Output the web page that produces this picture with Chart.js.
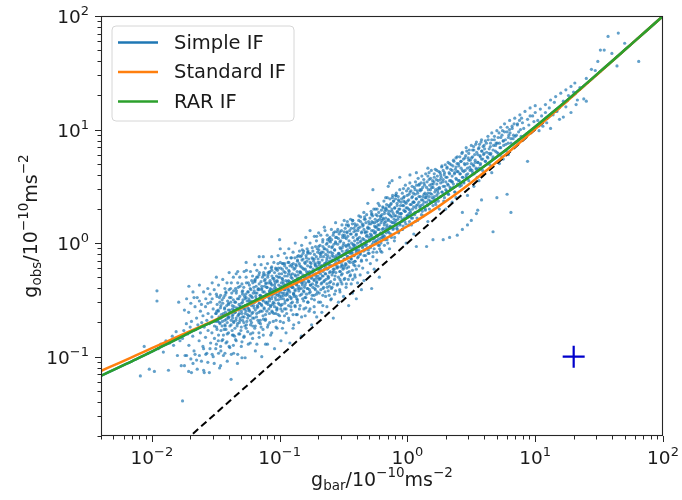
<!DOCTYPE html>
<html>
<head>
<meta charset="utf-8">
<script src="https://cdn.jsdelivr.net/npm/chart.js@4.4.1/dist/chart.umd.min.js"></script>
<style>
  html, body { margin: 0; padding: 0; background: #ffffff; }
  canvas { display: block; }
</style>
</head>
<body>
<canvas id="rar" width="682" height="500"></canvas>
<script>
// Radial acceleration relation: observed vs baryonic acceleration (units of 1e-10 m s^-2).
// Values are stored as log10 and converted when the datasets are built.

// Interpolation-function curves, sampled along log10(g_bar)
const curveLogGbar  = [-2.4, -2.25, -2.125, -2.0, -1.875, -1.75, -1.625, -1.5, -1.375, -1.25, -1.125, -1.0, -0.875, -0.75, -0.625, -0.5, -0.375, -0.25, -0.125, 0, 0.125, 0.25, 0.375, 0.5, 0.625, 0.75, 0.875, 1.0, 1.125, 1.25, 1.375, 1.5, 1.625, 1.75, 1.875, 2.0];
const simpleIFLog   = [-1.17, -1.09, -1.024, -0.955, -0.885, -0.815, -0.745, -0.68, -0.608, -0.539, -0.470, -0.40, -0.3275, -0.2545, -0.18, -0.104, -0.0255, 0.055, 0.1375, 0.223, 0.311, 0.402, 0.497, 0.595, 0.697, 0.803, 0.912, 1.025, 1.141, 1.259, 1.380, 1.503, 1.626, 1.7505, 1.875, 2.0];
const standardIFLog = [-1.127, -1.052, -0.989, -0.926, -0.863, -0.80, -0.738, -0.6745, -0.611, -0.5476, -0.484, -0.4185, -0.354, -0.288, -0.221, -0.153, -0.082, -0.009, 0.068, 0.148, 0.2355, 0.328, 0.4275, 0.534, 0.6457, 0.762, 0.882, 1.004, 1.127, 1.251, 1.376, 1.5004, 1.625, 1.750, 1.875, 2.0];
const rarIFLog      = [-1.17, -1.09, -1.024, -0.955, -0.885, -0.815, -0.745, -0.68, -0.608, -0.539, -0.470, -0.40, -0.3275, -0.2545, -0.18, -0.104, -0.0255, 0.055, 0.1375, 0.223, 0.311, 0.402, 0.497, 0.595, 0.697, 0.803, 0.912, 1.025, 1.141, 1.259, 1.380, 1.503, 1.626, 1.7505, 1.875, 2.0];

// g_obs = g_bar reference line
const oneToOne = [0.01, 100];

// Typical uncertainty marker (g_bar, g_obs)
const errorMarker = [20, 0.1];

// Axis limits and decade ticks
const xLimits = [0.004, 100];
const yLimits = [0.02, 100];
const xTickExponents = [-2, -1, 0, 1, 2];
const yTickExponents = [-1, 0, 1, 2];

// Rotation-curve points: [log10 g_bar, log10 g_obs]
const lowAccelPoints = [
  [-2.09,-1.17],[-2.06,-0.91],[-2.03,-0.97],[-2.02,-1.11],
  [-1.98,-1.13],[-1.96,-0.42],[-1.96,-0.51],[-1.95,-0.93],[-1.93,-0.89],[-1.91,-0.96],
  [-1.89,-0.86],[-1.87,-1.12],[-1.86,-0.88],[-1.84,-0.82],[-1.83,-0.90],[-1.81,-0.78],[-1.80,-0.99],
  [-1.79,-0.52],[-1.78,-0.86],[-1.77,-1.08],[-1.76,-1.39],[-1.76,-0.84],[-1.75,-0.77],[-1.74,-0.99],[-1.73,-0.71],[-1.72,-0.80],[-1.71,-0.38],[-1.71,-0.90],[-1.70,-0.74],
  [-1.69,-1.14],[-1.69,-0.69],[-1.68,-0.82],[-1.67,-0.48],[-1.67,-0.95],[-1.66,-0.76],[-1.65,-0.66],[-1.65,-1.03],[-1.64,-0.72],[-1.63,-0.86],[-1.62,-0.60],[-1.62,-0.79],[-1.61,-0.70],[-1.60,-0.91],[-1.60,-0.64],
  [-1.59,-1.14],[-1.59,-0.74],[-1.58,-0.56],[-1.58,-0.83],[-1.57,-0.68],[-1.57,-0.97],[-1.56,-0.62],[-1.56,-0.77],[-1.55,-1.14],[-1.55,-0.71],[-1.54,-0.52],[-1.54,-0.88],[-1.53,-0.65],[-1.53,-0.79],[-1.52,-1.00],[-1.52,-0.58],[-1.51,-0.73],[-1.51,-0.84],[-1.50,-0.62],[-1.50,-0.69],[-1.50,-0.93],[-1.49,-0.47],
  [-1.49,-0.76],[-1.48,-0.60],[-1.48,-0.86],[-1.47,-0.70],[-1.47,-1.10],[-1.46,-0.55],[-1.46,-0.66],[-1.46,-0.95],[-1.45,-0.73],[-1.45,-0.50],[-1.44,-0.62],[-1.44,-0.81],[-1.44,-0.99],[-1.43,-0.68],[-1.43,-0.57],[-1.42,-0.76],[-1.42,-0.44],[-1.42,-0.88],[-1.41,-0.63],[-1.41,-0.70],[-1.41,-1.04],[-1.40,-0.53],[-1.40,-0.79],[-1.40,-0.66],[-1.39,-0.59],[-1.39,-0.92],[-1.38,-0.72],[-1.38,-0.48],[-1.38,-1.20],[-1.37,-0.64],
  [-1.37,-0.81],[-1.37,-0.55],[-1.36,-0.69],[-1.36,-0.42],[-1.36,-0.97],[-1.35,-0.61],[-1.35,-0.75],[-1.35,-0.52],[-1.34,-0.66],[-1.34,-0.86],[-1.34,-0.27],[-1.33,-0.58],[-1.33,-0.71],[-1.33,-1.06],[-1.32,-0.49],[-1.32,-0.63],[-1.32,-0.80],[-1.31,-0.56],[-1.31,-0.68],[-1.31,-0.38],[-1.30,-0.74],[-1.30,-0.60],[-1.30,-0.91],[-1.29,-0.52],[-1.29,-0.65],[-1.29,-0.45],[-1.28,-0.70],[-1.28,-0.58],[-1.28,-0.83],[-1.27,-0.62],[-1.27,-0.49],[-1.27,-1.01],[-1.26,-0.55],[-1.26,-0.72],[-1.26,-0.24],[-1.25,-0.66],[-1.25,-0.43],[-1.25,-0.78],[-1.24,-0.59],[-1.24,-0.51],
  [-1.23,-0.64],[-1.23,-0.88],[-1.23,-0.40],[-1.22,-0.55],[-1.22,-0.70],[-1.22,-0.47],[-1.21,-0.61],[-1.21,-0.35],[-1.21,-0.79],[-1.20,-0.52],[-1.20,-0.66],[-1.20,-0.57],[-1.19,-0.44],[-1.19,-0.73],[-1.19,-0.95],[-1.18,-0.50],[-1.18,-0.62],[-1.18,-0.30],[-1.17,-0.56],[-1.17,-0.68],[-1.17,-0.41],[-1.16,-0.83],[-1.16,-0.53],[-1.16,-0.12],[-1.15,-0.60],[-1.15,-0.46],[-1.15,-0.71],[-1.14,-0.38],[-1.14,-0.55],[-1.14,-1.00],[-1.13,-0.49],[-1.13,-0.64],[-1.13,-0.76],[-1.12,-0.43],[-1.12,-0.58],[-1.12,-0.33],[-1.11,-0.52],[-1.11,-0.67],[-1.11,-0.89],[-1.10,-0.46],[-1.10,-0.60],[-1.10,-0.39],[-1.09,-0.54],[-1.09,-0.72],[-1.09,-0.26],[-1.08,-0.49],[-1.08,-0.62],[-1.08,-0.42],[-1.07,-0.56],[-1.07,-0.81]
];

const midAccelPoints = [
  [-1.07,-0.35],[-1.06,-0.47],[-1.06,-0.60],[-1.06,-0.29],[-1.05,-0.52],[-1.05,-0.41],[-1.05,-0.69],[-1.04,-0.56],[-1.04,-0.37],[-1.04,-0.93],[-1.03,-0.45],[-1.03,-0.62],[-1.03,-0.50],[-1.02,-0.33],[-1.02,-0.58],[-1.02,-0.75],[-1.01,-0.42],[-1.01,-0.53],[-1.01,-0.22],[-1.00,-0.47],[-1.00,-0.64],[-1.00,0.03],[-0.99,-0.38],[-0.99,-0.55],[-0.99,-0.86],[-0.98,-0.44],[-0.98,-0.31],[-0.98,-0.60],[-0.97,-0.49],[-0.97,-0.70],[-0.97,-0.36],[-0.96,-0.53],[-0.96,-0.41],[-0.96,-0.18],[-0.95,-0.46],[-0.95,-0.58],[-0.95,-0.79],[-0.94,-0.34],[-0.94,-0.50],[-0.94,-0.40],[-0.93,-0.27],[-0.93,-0.55],[-0.93,-0.66],[-0.92,-0.43],[-0.92,-0.37],[-0.92,-0.88],[-0.91,-0.48],[-0.91,-0.30],[-0.91,-0.59],[-0.90,-0.39],[-0.90,-0.52],[-0.90,-0.21],[-0.89,-0.45],[-0.89,-0.72],[-0.89,-0.34],
  [-0.88,-0.41],[-0.88,-0.55],[-0.88,-0.28],[-0.87,-0.47],[-0.87,-0.36],[-0.87,-0.63],[-0.86,-0.31],[-0.86,-0.50],[-0.86,-0.15],[-0.85,-0.42],[-0.85,-0.38],[-0.85,-0.70],[-0.84,-0.26],[-0.84,-0.46],[-0.84,-0.55],[-0.83,-0.33],[-0.83,-0.40],[-0.83,-0.82],[-0.82,-0.22],[-0.82,-0.49],[-0.82,-0.35],[-0.81,-0.29],[-0.81,-0.58],[-0.81,-0.43],[-0.80,-0.37],[-0.80,-0.18],[-0.80,-0.64],[-0.79,-0.31],[-0.79,-0.45],[-0.79,-0.25],[-0.78,-0.40],[-0.78,-0.52],[-0.78,-0.08],[-0.77,-0.34],[-0.77,-0.28],[-0.77,-0.60],[-0.76,-0.21],[-0.76,-0.43],[-0.76,-0.37],[-0.75,-0.30],[-0.75,-0.49],[-0.75,-0.72],[-0.74,-0.25],[-0.74,-0.39],[-0.74,-0.14],[-0.73,-0.33],[-0.73,-0.46],[-0.73,-0.56],[-0.72,-0.27],[-0.72,-0.20],[-0.72,-0.41],[-0.71,-0.35],[-0.71,-0.65],[-0.71,0.06],[-0.70,-0.29],
  [-0.70,-0.38],[-0.70,-0.17],[-0.69,-0.24],[-0.69,-0.44],[-0.69,-0.31],[-0.68,-0.12],[-0.68,-0.52],[-0.68,-0.27],[-0.67,-0.35],[-0.67,-0.20],[-0.67,-0.61],[-0.66,-0.29],[-0.66,-0.08],[-0.66,-0.40],[-0.65,-0.23],[-0.65,-0.33],[-0.65,0.14],[-0.64,-0.47],[-0.64,-0.18],[-0.64,-0.27],[-0.63,-0.36],[-0.63,-0.13],[-0.63,-0.56],[-0.62,-0.22],[-0.62,-0.31],[-0.62,-0.42],[-0.61,-0.16],[-0.61,-0.26],[-0.61,0.02],[-0.60,-0.34],[-0.60,-0.20],[-0.60,-0.50],[-0.59,-0.11],[-0.59,-0.28],[-0.59,-0.39],[-0.58,-0.15],[-0.58,-0.23],[-0.58,-0.66],[-0.57,-0.32],[-0.57,-0.06],[-0.57,-0.45],[-0.56,-0.19],[-0.56,-0.26],[-0.56,-0.13],[-0.55,-0.37],[-0.55,-0.22],[-0.55,0.10],[-0.54,-0.30],[-0.54,-0.09],[-0.54,-0.52],[-0.53,-0.17],[-0.53,-0.25],[-0.53,-0.41],[-0.52,-0.12],[-0.52,-0.21],
  [-0.52,-0.34],[-0.51,-0.04],[-0.51,-0.27],[-0.51,-0.16],[-0.50,-0.47],[-0.50,-0.10],[-0.50,-0.22],[-0.49,0.05],[-0.49,-0.31],[-0.49,-0.14],[-0.48,-0.19],[-0.48,-0.39],[-0.48,-0.07],[-0.47,-0.26],[-0.47,0.19],[-0.47,-0.12],[-0.46,-0.21],[-0.46,-0.55],[-0.46,-0.02],[-0.45,-0.17],[-0.45,-0.29],[-0.45,-0.09],[-0.44,-0.36],[-0.44,0.08],[-0.44,-0.14],[-0.43,-0.24],[-0.43,-0.05],[-0.43,-0.44],[-0.42,-0.11],[-0.42,-0.19],[-0.42,0.13],[-0.41,-0.30],[-0.41,-0.02],[-0.41,-0.16],[-0.40,-0.08],[-0.40,-0.23],[-0.40,-0.49],[-0.39,0.04],[-0.39,-0.13],[-0.39,-0.35],[-0.38,-0.06],[-0.38,-0.20],[-0.38,0.24],[-0.37,-0.10],[-0.37,-0.28],[-0.37,0.01],[-0.36,-0.16],[-0.36,-0.41],[-0.36,0.09],[-0.35,-0.03],
  [-0.35,-0.22],[-0.35,0.15],[-0.34,-0.11],[-0.34,0.03],[-0.34,-0.33],[-0.33,0.10],[-0.33,-0.06],[-0.33,0.21],[-0.32,-0.15],[-0.32,0.06],[-0.32,-0.01],[-0.31,0.13],[-0.31,-0.26],[-0.31,0.35],[-0.30,0.02],[-0.30,-0.09],[-0.30,0.17],[-0.29,-0.18],[-0.29,0.08],[-0.29,-0.03],[-0.28,0.25],[-0.28,0.11],[-0.28,-0.40],[-0.27,0.04],[-0.27,-0.12],[-0.27,0.18],[-0.27,0.47],[-0.26,-0.05],[-0.26,0.09],[-0.26,-0.23],[-0.25,0.14],[-0.25,0.01],[-0.25,0.30],[-0.24,-0.08],[-0.24,0.07],[-0.24,-0.15],[-0.23,0.20],[-0.23,0.03],[-0.23,0.12],[-0.22,-0.02],[-0.22,0.16],[-0.22,-0.30],[-0.21,0.09],[-0.21,0.24],[-0.21,-0.07],[-0.20,0.05],
  [-0.20,0.20],[-0.20,-0.08],[-0.19,0.13],[-0.19,0.31],[-0.19,0.05],[-0.18,0.18],[-0.18,0.26],[-0.18,-0.02],[-0.17,0.12],[-0.17,0.40],[-0.17,0.22],[-0.16,0.16],[-0.16,0.03],[-0.16,0.29],[-0.15,0.21],[-0.15,0.10],[-0.15,0.50],[-0.14,0.25],[-0.14,0.14],[-0.14,-0.05],[-0.14,0.53],[-0.13,0.34],[-0.13,0.19],[-0.13,0.08],[-0.12,0.28],[-0.12,0.23],[-0.12,0.55],[-0.11,0.13],[-0.11,0.37],[-0.11,0.18],[-0.10,0.31],[-0.10,0.05],[-0.10,0.24],[-0.09,0.42],[-0.09,0.20],[-0.08,0.33],[-0.08,0.15],[-0.08,0.27],[-0.07,0.10],[-0.07,0.38],[-0.07,0.23],[-0.06,0.30],[-0.06,0.17],[-0.06,0.58],[-0.05,0.36],[-0.05,0.26],[-0.04,0.21],[-0.04,0.12],[-0.03,0.33],[-0.03,0.40],[-0.02,0.28],[-0.02,0.19],[-0.01,0.35],[-0.01,0.00],[0.00,0.31],[0.00,0.24]
];

// Dense core of the relation between g_bar ~ 0.03 and ~ 7
const coreBandPoints = [
  [-1.497,-0.62],[-1.494,-0.74],[-1.489,-0.54],[-1.486,-0.68],[-1.481,-0.59],[-1.478,-0.81],[-1.474,-0.65],[-1.471,-0.48],[-1.466,-0.71],[-1.463,-0.57],[-1.459,-0.77],[-1.456,-0.63],[-1.452,-0.86],[-1.468,-0.52],[-1.484,-0.69],[-1.492,-0.60],
  [-1.448,-0.69],[-1.445,-0.53],[-1.441,-0.64],[-1.438,-0.48],[-1.434,-0.76],[-1.431,-0.58],[-1.428,-0.72],[-1.424,-0.61],[-1.421,-0.43],[-1.417,-0.67],[-1.414,-0.55],[-1.410,-0.80],[-1.407,-0.51],[-1.404,-0.65],[-1.402,-0.59],[-1.426,-0.73],
  [-1.399,-0.54],[-1.396,-0.65],[-1.392,-0.48],[-1.389,-0.73],[-1.386,-0.61],[-1.382,-0.52],[-1.379,-0.68],[-1.375,-0.44],[-1.372,-0.77],[-1.369,-0.58],[-1.365,-0.63],[-1.362,-0.50],[-1.359,-0.70],[-1.356,-0.56],[-1.353,-0.82],[-1.357,-0.59],[-1.384,-0.40],[-1.368,-0.66],
  [-1.348,-0.61],[-1.345,-0.52],[-1.342,-0.68],[-1.339,-0.44],[-1.336,-0.57],[-1.333,-0.73],[-1.330,-0.49],[-1.327,-0.64],[-1.324,-0.39],[-1.321,-0.59],[-1.318,-0.54],[-1.315,-0.70],[-1.312,-0.47],[-1.309,-0.66],[-1.306,-0.56],[-1.303,-0.77],[-1.338,-0.42],[-1.316,-0.62],
  [-1.299,-0.53],[-1.296,-0.62],[-1.293,-0.43],[-1.290,-0.68],[-1.287,-0.50],[-1.284,-0.57],[-1.281,-0.39],[-1.278,-0.65],[-1.275,-0.47],[-1.272,-0.73],[-1.269,-0.55],[-1.266,-0.45],[-1.263,-0.60],[-1.260,-0.35],[-1.257,-0.69],[-1.254,-0.51],[-1.252,-0.63],[-1.289,-0.42],[-1.271,-0.58],[-1.262,-0.48],
  [-1.249,-0.57],[-1.246,-0.43],[-1.243,-0.64],[-1.240,-0.49],[-1.237,-0.37],[-1.234,-0.60],[-1.231,-0.46],[-1.228,-0.68],[-1.225,-0.41],[-1.222,-0.53],[-1.219,-0.33],[-1.216,-0.62],[-1.213,-0.48],[-1.210,-0.73],[-1.207,-0.44],[-1.204,-0.55],[-1.202,-0.39],[-1.241,-0.58],[-1.226,-0.51],[-1.211,-0.66],
  [-1.199,-0.42],[-1.196,-0.52],[-1.193,-0.34],[-1.190,-0.59],[-1.187,-0.47],[-1.184,-0.38],[-1.181,-0.65],[-1.178,-0.44],[-1.175,-0.55],[-1.172,-0.30],[-1.169,-0.50],[-1.166,-0.40],[-1.163,-0.61],[-1.160,-0.36],[-1.157,-0.53],[-1.154,-0.46],[-1.152,-0.68],[-1.191,-0.32],[-1.176,-0.57],[-1.162,-0.41],[-1.183,-0.49],[-1.158,-0.26],
  [-1.149,-0.47],[-1.146,-0.34],[-1.143,-0.54],[-1.140,-0.40],[-1.137,-0.60],[-1.134,-0.30],[-1.131,-0.43],[-1.128,-0.51],[-1.125,-0.26],[-1.122,-0.57],[-1.119,-0.38],[-1.116,-0.48],[-1.113,-0.32],[-1.110,-0.63],[-1.107,-0.36],[-1.104,-0.53],[-1.102,-0.45],[-1.141,-0.41],[-1.127,-0.67],[-1.115,-0.28],[-1.133,-0.50],[-1.108,-0.35],
  [-1.099,-0.39],[-1.096,-0.52],[-1.093,-0.30],[-1.090,-0.46],[-1.087,-0.35],[-1.084,-0.58],[-1.081,-0.26],[-1.078,-0.43],[-1.075,-0.33],[-1.072,-0.55],[-1.069,-0.41],[-1.066,-0.22],[-1.063,-0.49],[-1.060,-0.37],[-1.057,-0.61],[-1.054,-0.31],[-1.052,-0.45],[-1.091,-0.28],[-1.079,-0.51],[-1.067,-0.36],[-1.056,-0.54],[-1.085,-0.48],[-1.073,-0.40],[-1.061,-0.24],
  [-1.049,-0.44],[-1.046,-0.31],[-1.043,-0.53],[-1.040,-0.26],[-1.037,-0.39],[-1.034,-0.48],[-1.031,-0.22],[-1.028,-0.42],[-1.025,-0.29],[-1.022,-0.57],[-1.019,-0.34],[-1.016,-0.46],[-1.013,-0.18],[-1.010,-0.50],[-1.007,-0.37],[-1.004,-0.27],[-1.002,-0.54],[-1.041,-0.33],[-1.029,-0.40],[-1.017,-0.24],[-1.006,-0.45],[-1.035,-0.35],[-1.023,-0.59],[-1.011,-0.30],
  [-0.999,-0.30],[-0.996,-0.43],[-0.993,-0.22],[-0.990,-0.49],[-0.987,-0.35],[-0.984,-0.27],[-0.981,-0.54],[-0.978,-0.32],[-0.975,-0.39],[-0.972,-0.18],[-0.969,-0.46],[-0.966,-0.25],[-0.963,-0.41],[-0.960,-0.29],[-0.957,-0.51],[-0.954,-0.37],[-0.952,-0.33],[-0.991,-0.58],[-0.979,-0.23],[-0.967,-0.44],[-0.956,-0.26],[-0.985,-0.47],[-0.973,-0.34],[-0.961,-0.20],
  [-0.949,-0.37],[-0.946,-0.22],[-0.943,-0.44],[-0.940,-0.29],[-0.937,-0.50],[-0.934,-0.17],[-0.931,-0.33],[-0.928,-0.41],[-0.925,-0.25],[-0.922,-0.47],[-0.919,-0.20],[-0.916,-0.35],[-0.913,-0.28],[-0.910,-0.53],[-0.907,-0.13],[-0.904,-0.39],[-0.902,-0.31],[-0.941,-0.45],[-0.929,-0.24],[-0.917,-0.38],[-0.906,-0.19],[-0.935,-0.42],[-0.923,-0.34],[-0.911,-0.49],
  [-0.899,-0.27],[-0.896,-0.39],[-0.893,-0.18],[-0.890,-0.45],[-0.887,-0.23],[-0.884,-0.33],[-0.881,-0.13],[-0.878,-0.42],[-0.875,-0.29],[-0.872,-0.36],[-0.869,-0.20],[-0.866,-0.49],[-0.863,-0.25],[-0.860,-0.16],[-0.857,-0.40],[-0.854,-0.32],[-0.852,-0.11],[-0.891,-0.44],[-0.879,-0.22],[-0.867,-0.37],[-0.856,-0.28],[-0.885,-0.47],[-0.873,-0.19],[-0.861,-0.34],
  [-0.849,-0.34],[-0.846,-0.18],[-0.843,-0.40],[-0.840,-0.25],[-0.837,-0.12],[-0.834,-0.32],[-0.831,-0.21],[-0.828,-0.45],[-0.825,-0.15],[-0.822,-0.37],[-0.819,-0.28],[-0.816,-0.09],[-0.813,-0.42],[-0.810,-0.23],[-0.807,-0.30],[-0.804,-0.17],[-0.802,-0.48],[-0.841,-0.20],[-0.829,-0.35],[-0.817,-0.14],[-0.806,-0.39],[-0.835,-0.26],[-0.823,-0.06],[-0.811,-0.33],
  [-0.799,-0.23],[-0.796,-0.35],[-0.793,-0.11],[-0.790,-0.30],[-0.787,-0.16],[-0.784,-0.40],[-0.781,-0.20],[-0.778,-0.07],[-0.775,-0.33],[-0.772,-0.14],[-0.769,-0.44],[-0.766,-0.25],[-0.763,-0.28],[-0.760,-0.09],[-0.757,-0.37],[-0.754,-0.18],[-0.752,-0.31],[-0.791,-0.13],[-0.779,-0.26],[-0.767,-0.41],[-0.756,-0.21],[-0.785,-0.05],[-0.773,-0.34],[-0.761,-0.17],
  [-0.749,-0.26],[-0.746,-0.13],[-0.743,-0.36],[-0.740,-0.07],[-0.737,-0.23],[-0.734,-0.16],[-0.731,-0.32],[-0.728,-0.10],[-0.725,-0.40],[-0.722,-0.19],[-0.719,-0.03],[-0.716,-0.29],[-0.713,-0.12],[-0.710,-0.34],[-0.707,-0.21],[-0.704,-0.43],[-0.702,-0.08],[-0.741,-0.25],[-0.729,-0.14],[-0.717,-0.37],[-0.706,-0.05],[-0.735,-0.28],[-0.723,-0.18],[-0.711,-0.31],
  [-0.699,-0.14],[-0.696,-0.26],[-0.693,-0.06],[-0.690,-0.32],[-0.687,-0.17],[-0.684,-0.02],[-0.681,-0.23],[-0.678,-0.10],[-0.675,-0.36],[-0.672,-0.08],[-0.669,-0.20],[-0.666,-0.29],[-0.663,0.01],[-0.660,-0.25],[-0.657,-0.12],[-0.654,-0.34],[-0.652,-0.05],[-0.691,-0.19],[-0.679,-0.31],[-0.667,-0.15],[-0.656,-0.39],[-0.685,-0.09],[-0.673,-0.21],[-0.661,-0.03],
  [-0.649,-0.18],[-0.646,-0.05],[-0.643,-0.27],[-0.640,-0.10],[-0.637,-0.32],[-0.634,-0.01],[-0.631,-0.15],[-0.628,-0.23],[-0.625,0.03],[-0.622,-0.29],[-0.619,-0.08],[-0.616,-0.19],[-0.613,-0.03],[-0.610,-0.35],[-0.607,-0.13],[-0.604,-0.25],[-0.602,0.01],[-0.641,-0.21],[-0.629,-0.06],[-0.617,-0.30],[-0.606,0.05],[-0.635,-0.17],[-0.623,-0.11],[-0.611,-0.38],
  [-0.599,-0.08],[-0.596,-0.20],[-0.593,0.03],[-0.590,-0.15],[-0.587,-0.03],[-0.584,-0.26],[-0.581,0.07],[-0.578,-0.12],[-0.575,-0.01],[-0.572,-0.23],[-0.569,-0.06],[-0.566,-0.29],[-0.563,0.01],[-0.560,-0.17],[-0.557,-0.11],[-0.554,0.05],[-0.552,-0.21],[-0.591,-0.04],[-0.579,-0.25],[-0.567,0.10],[-0.556,-0.14],[-0.585,-0.09],[-0.573,-0.19],[-0.561,0.00],
  [-0.549,-0.13],[-0.546,-0.01],[-0.543,-0.21],[-0.540,0.04],[-0.537,-0.10],[-0.534,0.08],[-0.531,-0.16],[-0.528,-0.04],[-0.525,-0.25],[-0.522,0.02],[-0.519,-0.11],[-0.516,0.11],[-0.513,-0.19],[-0.510,-0.07],[-0.507,0.05],[-0.504,-0.23],[-0.502,-0.02],[-0.541,-0.15],[-0.529,0.01],[-0.517,-0.28],[-0.506,0.07],[-0.535,-0.09],[-0.523,-0.05],[-0.511,-0.20],
  [-0.499,0.00],[-0.496,-0.14],[-0.493,0.07],[-0.490,-0.09],[-0.487,0.13],[-0.484,-0.18],[-0.481,-0.02],[-0.478,0.04],[-0.475,-0.22],[-0.472,0.09],[-0.469,-0.06],[-0.466,-0.12],[-0.463,0.16],[-0.460,-0.16],[-0.457,0.02],[-0.454,-0.08],[-0.452,0.11],[-0.491,-0.20],[-0.479,-0.03],[-0.467,0.06],[-0.456,-0.25],[-0.485,-0.10],[-0.473,0.10],[-0.461,-0.01],
  [-0.449,-0.04],[-0.446,0.08],[-0.443,-0.13],[-0.440,0.13],[-0.437,0.00],[-0.434,-0.08],[-0.431,0.17],[-0.428,-0.17],[-0.425,0.05],[-0.422,-0.02],[-0.419,0.10],[-0.416,-0.11],[-0.413,0.02],[-0.410,-0.20],[-0.407,0.15],[-0.404,-0.06],[-0.402,0.07],[-0.441,-0.14],[-0.429,0.20],[-0.417,-0.04],[-0.406,0.11],[-0.435,-0.09],[-0.423,-0.01],[-0.411,-0.16],
  [-0.399,0.08],[-0.396,-0.06],[-0.393,0.16],[-0.390,0.00],[-0.387,0.11],[-0.384,-0.12],[-0.381,0.20],[-0.378,-0.03],[-0.375,0.05],[-0.372,0.14],[-0.369,-0.09],[-0.366,0.23],[-0.363,0.02],[-0.360,-0.15],[-0.357,0.10],[-0.354,0.17],[-0.352,-0.04],[-0.391,0.03],[-0.379,-0.08],[-0.367,0.19],[-0.356,-0.01],[-0.385,0.13],
  [-0.349,0.04],[-0.346,0.16],[-0.343,-0.07],[-0.340,0.12],[-0.337,0.21],[-0.334,-0.01],[-0.331,0.09],[-0.328,-0.11],[-0.325,0.18],[-0.322,0.02],[-0.319,0.25],[-0.316,0.07],[-0.313,-0.04],[-0.310,0.14],[-0.307,-0.09],[-0.304,0.19],[-0.302,0.05],[-0.341,0.27],[-0.329,-0.02],[-0.317,0.10],[-0.306,-0.06],[-0.335,0.23],
  [-0.299,0.13],[-0.296,0.02],[-0.293,0.22],[-0.290,-0.04],[-0.287,0.17],[-0.284,0.28],[-0.281,0.07],[-0.278,0.19],[-0.275,-0.01],[-0.272,0.24],[-0.269,-0.08],[-0.266,0.11],[-0.263,0.30],[-0.260,0.04],[-0.257,0.15],[-0.254,0.09],[-0.252,0.21],[-0.291,-0.03],[-0.279,0.26],[-0.267,0.01],[-0.256,0.18],[-0.285,0.06],
  [-0.249,0.10],[-0.246,0.25],[-0.243,0.02],[-0.240,0.19],[-0.237,0.30],[-0.234,0.06],[-0.231,0.16],[-0.228,-0.02],[-0.225,0.27],[-0.222,0.12],[-0.219,0.33],[-0.216,0.21],[-0.213,0.04],[-0.210,0.23],[-0.207,0.00],[-0.204,0.29],[-0.202,0.08],[-0.241,0.14],[-0.229,0.35],[-0.217,-0.05],[-0.206,0.18],[-0.235,0.24],
  [-0.199,0.25],[-0.196,0.12],[-0.193,0.32],[-0.190,0.07],[-0.187,0.21],[-0.184,0.37],[-0.181,0.16],[-0.178,0.28],[-0.175,0.03],[-0.172,0.30],[-0.169,0.19],[-0.166,0.09],[-0.163,0.34],[-0.160,0.14],[-0.157,0.40],[-0.154,0.00],[-0.152,0.26],[-0.191,0.22],[-0.179,0.06],[-0.167,0.31],
  [-0.149,0.20],[-0.146,0.33],[-0.143,0.09],[-0.140,0.28],[-0.137,0.39],[-0.134,0.15],[-0.131,0.24],[-0.128,0.35],[-0.125,0.05],[-0.122,0.30],[-0.119,0.18],[-0.116,0.42],[-0.113,0.12],[-0.110,0.26],[-0.107,0.37],[-0.104,0.21],[-0.102,0.02],[-0.141,0.32],[-0.129,0.14],[-0.117,0.40],
  [-0.099,0.31],[-0.096,0.18],[-0.093,0.39],[-0.090,0.24],[-0.087,0.44],[-0.084,0.13],[-0.081,0.35],[-0.078,0.28],[-0.075,0.21],[-0.072,0.41],[-0.069,0.09],[-0.066,0.37],[-0.063,0.26],[-0.060,0.47],[-0.057,0.16],[-0.054,0.33],[-0.052,0.23],[-0.091,0.42],[-0.079,0.12],[-0.067,0.30],
  [-0.049,0.26],[-0.046,0.39],[-0.043,0.19],[-0.040,0.44],[-0.037,0.33],[-0.034,0.15],[-0.031,0.48],[-0.028,0.29],[-0.025,0.41],[-0.022,0.22],[-0.019,0.36],[-0.016,0.51],[-0.013,0.17],[-0.010,0.31],[-0.007,0.46],[-0.004,0.24],[-0.002,0.42],[-0.041,0.12],[-0.029,0.37],[-0.017,0.28],
  [0.001,0.37],[0.004,0.24],[0.007,0.48],[0.010,0.30],[0.013,0.43],[0.016,0.19],[0.019,0.53],[0.022,0.34],[0.025,0.27],[0.028,0.46],[0.031,0.16],[0.034,0.40],[0.037,0.50],[0.040,0.22],[0.043,0.36],[0.046,0.44],[0.049,0.32],[0.012,0.26],
  [0.051,0.36],[0.054,0.49],[0.057,0.25],[0.060,0.43],[0.063,0.54],[0.066,0.31],[0.069,0.39],[0.072,0.51],[0.075,0.22],[0.078,0.46],[0.081,0.34],[0.084,0.57],[0.087,0.28],[0.090,0.41],[0.093,0.52],[0.096,0.32],[0.099,0.47],[0.062,0.19],
  [0.101,0.46],[0.104,0.33],[0.107,0.53],[0.110,0.38],[0.113,0.59],[0.116,0.28],[0.119,0.49],[0.122,0.41],[0.125,0.24],[0.128,0.56],[0.131,0.36],[0.134,0.51],[0.137,0.44],[0.140,0.30],[0.143,0.61],[0.147,0.40],
  [0.151,0.42],[0.154,0.54],[0.157,0.33],[0.160,0.59],[0.163,0.47],[0.166,0.38],[0.169,0.62],[0.172,0.30],[0.175,0.51],[0.178,0.44],[0.181,0.57],[0.184,0.36],[0.187,0.64],[0.190,0.49],[0.193,0.40],[0.197,0.55],
  [0.202,0.52],[0.206,0.39],[0.210,0.61],[0.214,0.45],[0.218,0.65],[0.222,0.34],[0.226,0.56],[0.230,0.42],[0.234,0.59],[0.238,0.48],[0.242,0.37],[0.246,0.63],[0.208,0.54],[0.236,0.46],
  [0.252,0.48],[0.256,0.62],[0.260,0.41],[0.264,0.58],[0.268,0.67],[0.272,0.45],[0.276,0.54],[0.280,0.64],[0.284,0.37],[0.288,0.60],[0.292,0.50],[0.296,0.69],[0.258,0.56],[0.286,0.43],
  [0.302,0.58],[0.306,0.46],[0.310,0.67],[0.314,0.52],[0.318,0.71],[0.322,0.43],[0.326,0.62],[0.330,0.55],[0.334,0.49],[0.338,0.65],[0.342,0.69],[0.346,0.54],
  [0.352,0.54],[0.356,0.68],[0.360,0.49],[0.364,0.72],[0.368,0.61],[0.372,0.45],[0.376,0.65],[0.380,0.75],[0.384,0.56],[0.388,0.70],[0.392,0.52],[0.396,0.63],
  [0.402,0.68],[0.406,0.55],[0.410,0.76],[0.414,0.61],[0.418,0.72],[0.422,0.51],[0.426,0.79],[0.430,0.64],[0.434,0.58],[0.438,0.74],[0.442,0.53],[0.446,0.70],
  [0.452,0.64],[0.456,0.77],[0.460,0.58],[0.464,0.81],[0.468,0.70],[0.472,0.61],[0.476,0.75],[0.480,0.55],[0.484,0.82],[0.488,0.67],[0.492,0.73],[0.496,0.65],
  [0.502,0.75],[0.506,0.64],[0.510,0.82],[0.514,0.69],[0.518,0.85],[0.522,0.61],[0.526,0.78],[0.530,0.71],[0.534,0.87],[0.538,0.66],[0.542,0.80],[0.546,0.58],
  [0.552,0.71],[0.556,0.83],[0.560,0.66],[0.564,0.87],[0.568,0.77],[0.572,0.70],[0.576,0.89],[0.580,0.74],[0.584,0.81],[0.588,0.64],[0.592,0.85],[0.596,0.78],
  [0.604,0.83],[0.611,0.72],[0.618,0.88],[0.625,0.76],[0.632,0.91],[0.639,0.79],[0.645,0.69],[0.649,0.85],
  [0.653,0.79],[0.660,0.91],[0.667,0.74],[0.674,0.86],[0.681,0.94],[0.688,0.81],[0.694,0.88],[0.699,0.71],
  [0.703,0.88],[0.710,0.79],[0.717,0.97],[0.724,0.84],[0.731,0.93],[0.738,0.76],[0.744,0.99],[0.749,0.90],
  [0.753,0.86],[0.760,0.98],[0.767,0.91],[0.774,0.81],[0.781,1.02],[0.788,0.88],[0.794,0.95],[0.799,1.00],
  [0.803,0.97],[0.811,0.88],[0.819,1.03],[0.827,0.92],[0.835,1.05],[0.843,0.94],
  [0.853,0.95],[0.861,1.05],[0.869,0.91],[0.877,1.08],[0.885,1.00],[0.893,1.10]
];

// Wider scatter above and below the core at low and intermediate g_bar
const broadSpreadPoints = [
  [-1.745,-0.59],[-1.745,-1.08],[-1.728,-0.49],[-1.728,-0.99],[-1.712,-1.13],[-1.712,-0.61],[-1.695,-0.53],[-1.695,-1.02],[-1.678,-1.06],[-1.678,-0.43],[-1.662,-0.56],[-1.662,-0.98],
  [-1.645,-1.11],[-1.645,-0.48],[-1.628,-0.51],[-1.628,-0.99],[-1.628,-0.37],[-1.612,-1.04],[-1.612,-0.54],[-1.595,-0.43],[-1.595,-0.93],[-1.595,-1.12],[-1.578,-0.49],[-1.578,-0.98],
  [-1.562,-1.05],[-1.562,-0.40],[-1.562,-0.53],[-1.545,-0.45],[-1.545,-0.93],[-1.528,-0.98],[-1.528,-0.35],[-1.528,-0.49],[-1.512,-0.41],[-1.512,-1.06],[-1.495,-0.89],[-1.495,-0.45],[-1.495,-0.30],
  [-1.478,-0.97],[-1.478,-0.37],[-1.462,-0.46],[-1.462,-0.91],[-1.462,-1.08],[-1.445,-0.32],[-1.445,-0.85],[-1.428,-0.97],[-1.428,-0.40],[-1.428,-0.46],[-1.412,-0.35],[-1.412,-0.87],
  [-1.395,-0.91],[-1.395,-0.41],[-1.395,-0.26],[-1.378,-0.35],[-1.378,-0.98],[-1.362,-0.81],[-1.362,-0.30],[-1.362,-0.90],[-1.345,-0.40],[-1.345,-0.85],[-1.328,-0.98],[-1.328,-0.25],[-1.328,-0.35],
  [-1.312,-0.30],[-1.312,-0.80],[-1.295,-0.87],[-1.295,-0.36],[-1.295,-1.01],[-1.278,-0.25],[-1.278,-0.82],[-1.262,-0.75],[-1.262,-0.30],[-1.262,-0.17],[-1.245,-0.35],[-1.245,-0.89],
  [-1.228,-0.80],[-1.228,-0.25],[-1.228,-0.72],[-1.212,-0.29],[-1.212,-0.84],[-1.195,-0.75],[-1.195,-0.19],[-1.195,-0.33],[-1.178,-0.24],[-1.178,-0.89],[-1.162,-0.70],[-1.162,-0.28],[-1.162,-0.79],
  [-1.145,-0.19],[-1.145,-0.74],[-1.128,-0.81],[-1.128,-0.28],[-1.128,-0.12],[-1.112,-0.22],[-1.112,-0.68],[-1.095,-0.74],[-1.095,-0.18],[-1.095,-0.89],[-1.078,-0.25],[-1.078,-0.70],
  [-1.062,-0.79],[-1.062,-0.12],[-1.062,-0.21],[-1.045,-0.17],[-1.045,-0.62],[-1.028,-0.68],[-1.028,-0.23],[-1.028,-0.74],[-1.012,-0.11],[-1.012,-0.63],
  [-0.995,-0.69],[-0.995,-0.17],[-0.995,-0.05],[-0.978,-0.18],[-0.978,-0.75],[-0.962,-0.58],[-0.962,-0.09],[-0.962,-0.64],[-0.945,-0.13],[-0.945,-0.62],
  [-0.928,-0.68],[-0.928,-0.05],[-0.928,-0.17],[-0.912,-0.13],[-0.912,-0.56],[-0.895,-0.63],[-0.895,-0.08],[-0.895,-0.75],[-0.878,0.00],[-0.878,-0.56],
  [-0.862,-0.52],[-0.862,-0.12],[-0.862,-0.63],[-0.845,-0.07],[-0.845,-0.58],[-0.828,-0.65],[-0.828,-0.02],[-0.828,-0.11],[-0.812,-0.07],[-0.812,-0.51],
  [-0.795,-0.57],[-0.795,0.05],[-0.795,-0.48],[-0.778,-0.09],[-0.778,-0.52],[-0.762,-0.58],[-0.762,0.00],[-0.762,0.11],[-0.745,-0.04],[-0.745,-0.46],
  [-0.728,-0.50],[-0.728,0.06],[-0.728,-0.61],[-0.712,0.02],[-0.712,-0.45],[-0.695,-0.52],[-0.695,-0.03],[-0.695,0.09],[-0.678,0.07],[-0.678,-0.41],
  [-0.662,-0.46],[-0.662,0.03],[-0.662,-0.55],[-0.645,0.11],[-0.645,-0.43],[-0.628,-0.39],[-0.628,0.07],[-0.628,0.00],[-0.612,0.04],[-0.612,-0.46],
  [-0.595,-0.40],[-0.595,0.12],[-0.595,-0.49],[-0.578,0.09],[-0.578,-0.36],[-0.562,-0.42],[-0.562,0.18],[-0.562,0.05],[-0.545,0.12],[-0.545,-0.36],
  [-0.528,-0.43],[-0.528,0.10],[-0.528,-0.32],[-0.512,0.16],[-0.512,-0.36],[-0.495,-0.32],[-0.495,0.20],[-0.495,0.10],[-0.478,0.16],[-0.478,-0.36],
  [-0.462,-0.32],[-0.462,0.15],[-0.445,0.21],[-0.445,-0.28],[-0.428,-0.32],[-0.428,0.20],[-0.412,0.17],[-0.412,-0.28]
];

const highAccelPoints = [
  [0.01,0.38],[0.01,0.16],[0.02,0.29],[0.02,0.45],[0.02,0.60],[0.03,0.34],[0.03,0.22],[0.04,0.41],[0.04,0.30],[0.05,0.08],[0.05,0.36],[0.06,0.47],[0.06,0.27],[0.07,0.39],[0.07,0.33],[0.07,0.62],[0.07,-0.03],[0.08,0.20],[0.08,0.44],[0.09,0.36],[0.09,0.51],[0.10,0.30],[0.10,0.41],[0.11,0.25],[0.11,0.47],[0.12,0.38],[0.12,0.34],[0.13,0.53],[0.13,0.43],[0.14,0.29],[0.14,0.40],[0.15,0.49],[0.15,0.36],[0.15,-0.03],[0.16,0.44],[0.16,0.19],[0.16,0.66],[0.17,0.41],[0.17,0.56],[0.18,0.47],[0.18,0.37],[0.19,0.52],[0.19,0.43],[0.20,0.33],[0.20,0.49],
  [0.20,0.03],[0.28,0.03],[0.33,0.05],[0.39,0.07],[0.43,0.12],[0.47,0.16],[0.50,0.20],[0.55,0.29],[0.58,0.38],[0.43,0.27],[0.54,0.26],
  [0.21,0.41],[0.21,0.58],[0.22,0.47],[0.22,0.36],[0.23,0.52],[0.23,0.64],[0.24,0.44],[0.24,0.55],[0.25,0.49],[0.25,0.30],[0.26,0.60],[0.26,0.53],[0.27,0.45],[0.27,0.68],[0.28,0.56],[0.28,0.50],[0.29,0.40],[0.29,0.62],[0.30,0.54],[0.30,0.47],[0.30,0.30],[0.31,0.66],[0.31,0.58],[0.32,0.51],[0.32,0.43],[0.33,0.61],[0.33,0.70],[0.34,0.55],[0.34,0.48],[0.35,0.64],[0.35,0.59],[0.35,0.36],[0.36,0.52],[0.36,0.73],[0.37,0.62],[0.37,0.45],[0.38,0.67],[0.38,0.57],[0.38,0.40],[0.39,0.76],[0.39,0.63],[0.40,0.55],[0.40,0.70],
  [0.41,0.61],[0.41,0.50],[0.42,0.66],[0.42,0.72],[0.43,0.58],[0.43,0.80],[0.44,0.63],[0.44,0.54],[0.45,0.69],[0.45,0.75],[0.46,0.60],[0.46,0.84],[0.47,0.66],[0.47,0.57],[0.47,0.42],[0.48,0.73],[0.48,0.79],[0.49,0.64],[0.50,0.70],[0.50,0.86],[0.51,0.62],[0.51,0.76],[0.52,0.68],[0.52,0.82],[0.52,0.50],[0.53,0.73],[0.54,0.65],[0.54,0.89],[0.55,0.78],[0.55,0.71],[0.56,0.84],[0.56,0.55],[0.57,0.69],[0.57,0.76],[0.58,0.91],[0.58,0.81],[0.59,0.74],[0.59,0.60],[0.60,0.86],[0.60,0.79],
  [0.67,0.10],[0.81,0.27],[0.70,0.40],[0.78,0.43],
  [0.61,0.72],[0.61,0.90],[0.62,0.80],[0.63,0.75],[0.63,0.94],[0.64,0.83],[0.65,0.78],[0.65,0.88],[0.66,0.97],[0.66,0.62],[0.67,0.82],[0.67,0.76],[0.68,0.91],[0.69,0.86],[0.70,0.99],[0.70,0.80],[0.71,0.93],[0.72,0.88],[0.72,0.70],[0.73,1.02],[0.73,0.84],[0.74,0.95],[0.75,0.90],[0.75,0.74],[0.76,1.05],[0.77,0.87],[0.78,0.98],[0.79,0.93],[0.79,0.78],[0.80,1.08],
  [0.81,0.92],[0.82,1.01],[0.83,0.95],[0.84,1.10],[0.85,0.89],[0.86,1.04],[0.87,0.98],[0.88,1.13],[0.89,0.94],[0.90,1.06],[0.91,1.01],[0.92,1.16],[0.93,0.96],[0.94,1.09],[0.94,0.72],[0.95,1.04],[0.96,1.19],[0.96,1.12],[0.97,0.99],[0.98,1.12],[0.99,1.07],[1.00,1.21],[1.00,1.15],
  [1.04,1.18],[1.08,1.22],[1.12,1.26],[1.16,1.29],[1.20,1.32],[1.24,1.35],[1.28,1.38],[1.31,1.41],
  [1.02,1.08],[1.03,0.99],[1.05,1.12],[1.06,1.03],[1.08,1.15],[1.09,1.06],[1.11,1.19],[1.12,1.01],[1.14,1.13],[1.15,1.24],[1.17,1.16],[1.19,1.09],[1.22,1.11],[1.22,1.25],[1.24,1.20],[1.26,1.30],[1.28,1.15],[1.30,1.33],[1.32,1.22],[1.33,1.26],[1.35,1.37],[1.38,1.27],[1.40,1.25],
  [1.40,1.45],[1.44,1.53],[1.47,1.52],[1.49,1.60],[1.51,1.70],[1.54,1.70],[1.57,1.82],[1.60,1.67],[1.64,1.56],[1.65,1.85],[1.70,1.76],[1.81,1.60]
];

const fromLog = p => ({ x: Math.pow(10, p[0]), y: Math.pow(10, p[1]) });
const curve = logs => curveLogGbar.map((lx, i) => fromLog([lx, logs[i]]));

const FONT = '"DejaVu Sans", "Liberation Sans", sans-serif';
const SERIES = [
  { label: 'Simple IF',   color: '#1f77b4', values: simpleIFLog },
  { label: 'Standard IF', color: '#ff7f0e', values: standardIFLog },
  { label: 'RAR IF',      color: '#2ca02c', values: rarIFLog }
];

// Text runs with per-piece size and vertical shift (super/subscripts).
function richWidth(ctx, parts) {
  let w = 0;
  for (const p of parts) { ctx.font = p.size + 'px ' + FONT; w += ctx.measureText(p.text).width; }
  return w;
}
function drawRich(ctx, parts, x, y, align) {
  const total = richWidth(ctx, parts);
  let cx = align === 'right' ? x - total : align === 'center' ? x - total / 2 : x;
  ctx.textBaseline = 'alphabetic';
  ctx.textAlign = 'left';
  for (const p of parts) {
    ctx.font = p.size + 'px ' + FONT;
    ctx.fillText(p.text, cx, y - (p.rise || 0));
    cx += ctx.measureText(p.text).width;
  }
}
const powerLabel = e => [
  { text: '10', size: 18.5 },
  { text: String(e).replace('-', '\u2212'), size: 13, rise: 8 }
];
const axisTitle = sub => [
  { text: 'g', size: 19 },
  { text: sub, size: 13.5, rise: -4 },
  { text: '/10', size: 19 },
  { text: '\u221210', size: 13.5, rise: 9 },
  { text: 'ms', size: 19 },
  { text: '\u22122', size: 13.5, rise: 9 }
];

const decorations = {
  id: 'decorations',
  afterDraw(chart) {
    const { ctx, chartArea: a, scales } = chart;
    const xs = scales.x, ys = scales.y;
    ctx.save();

    // frame
    ctx.strokeStyle = '#262626';
    ctx.lineWidth = 1.1;
    ctx.strokeRect(a.left + 0.5, a.top + 0.5, a.right - a.left - 1, a.bottom - a.top - 1);

    // major and minor ticks
    const seg = (x1, y1, x2, y2) => { ctx.beginPath(); ctx.moveTo(x1, y1); ctx.lineTo(x2, y2); ctx.stroke(); };
    ctx.lineWidth = 1;
    for (let e = -3; e <= 2; e++) {
      for (let m = 1; m <= 9; m++) {
        const v = m * Math.pow(10, e);
        const len = m === 1 ? 6 : 3.5;
        if (v >= xLimits[0] * 0.999 && v <= xLimits[1] * 1.001) {
          const px = Math.round(xs.getPixelForValue(v)) + 0.5;
          seg(px, a.bottom, px, a.bottom + len);
        }
        if (v >= yLimits[0] * 0.999 && v <= yLimits[1] * 1.001) {
          const py = Math.round(ys.getPixelForValue(v)) + 0.5;
          seg(a.left, py, a.left - len, py);
        }
      }
    }

    // tick labels
    ctx.fillStyle = '#1a1a1a';
    for (const e of xTickExponents) {
      drawRich(ctx, powerLabel(e), xs.getPixelForValue(Math.pow(10, e)), a.bottom + 28, 'center');
    }
    for (const e of yTickExponents) {
      drawRich(ctx, powerLabel(e), a.left - 12, ys.getPixelForValue(Math.pow(10, e)) + 7, 'right');
    }

    // axis titles
    drawRich(ctx, axisTitle('bar'), (a.left + a.right) / 2, a.bottom + 50, 'center');
    ctx.save();
    ctx.translate(37, (a.top + a.bottom) / 2);
    ctx.rotate(-Math.PI / 2);
    drawRich(ctx, axisTitle('obs'), 0, 0, 'center');
    ctx.restore();

    // legend
    const bx = a.left + 11, by = a.top + 10, bw = 182, bh = 95, r = 4;
    ctx.beginPath();
    ctx.moveTo(bx + r, by);
    ctx.arcTo(bx + bw, by, bx + bw, by + bh, r);
    ctx.arcTo(bx + bw, by + bh, bx, by + bh, r);
    ctx.arcTo(bx, by + bh, bx, by, r);
    ctx.arcTo(bx, by, bx + bw, by, r);
    ctx.closePath();
    ctx.fillStyle = 'rgba(255,255,255,0.8)';
    ctx.fill();
    ctx.strokeStyle = '#d6d6d6';
    ctx.lineWidth = 1;
    ctx.stroke();
    SERIES.forEach((s, i) => {
      const rowY = by + 16.5 + i * 29.5;
      ctx.strokeStyle = s.color;
      ctx.lineWidth = 2.5;
      seg(bx + 6, rowY, bx + 46, rowY);
      ctx.fillStyle = '#1a1a1a';
      ctx.font = '19.5px ' + FONT;
      ctx.textBaseline = 'middle';
      ctx.textAlign = 'left';
      ctx.fillText(s.label, bx + 62, rowY + 1);
    });
    ctx.restore();
  }
};

const lineDataset = (s, order) => ({
  label: s.label,
  data: curve(s.values),
  showLine: true,
  borderColor: s.color,
  backgroundColor: s.color,
  borderWidth: 2.5,
  pointRadius: 0,
  cubicInterpolationMode: 'monotone',
  order
});

new Chart(document.getElementById('rar'), {
  type: 'scatter',
  data: {
    datasets: [
      {
        label: 'SPARC',
        data: [...lowAccelPoints, ...midAccelPoints, ...coreBandPoints, ...broadSpreadPoints, ...highAccelPoints].map(fromLog),
        backgroundColor: 'rgba(31,119,180,0.7)',
        borderWidth: 0,
        pointRadius: 1.6,
        order: 6
      },
      {
        label: 'g_obs = g_bar',
        data: oneToOne.map(v => ({ x: v, y: v })),
        showLine: true,
        borderColor: '#000000',
        borderWidth: 2,
        borderDash: [7, 4],
        pointRadius: 0,
        order: 5
      },
      lineDataset(SERIES[0], 4),
      lineDataset(SERIES[1], 3),
      lineDataset(SERIES[2], 2),
      {
        label: 'uncertainty',
        data: [{ x: errorMarker[0], y: errorMarker[1] }],
        pointStyle: 'cross',
        pointRadius: 11,
        borderColor: '#0000cc',
        borderWidth: 2.2,
        order: 0
      }
    ]
  },
  options: {
    responsive: false,
    animation: false,
    devicePixelRatio: 1,
    events: [],
    layout: { padding: { left: 101, top: 16, right: 19, bottom: 64 } },
    plugins: { legend: { display: false }, tooltip: { enabled: false } },
    scales: {
      x: { type: 'logarithmic', min: xLimits[0], max: xLimits[1], display: false },
      y: { type: 'logarithmic', min: yLimits[0], max: yLimits[1], display: false }
    }
  },
  plugins: [decorations]
});
</script>
</body>
</html>
